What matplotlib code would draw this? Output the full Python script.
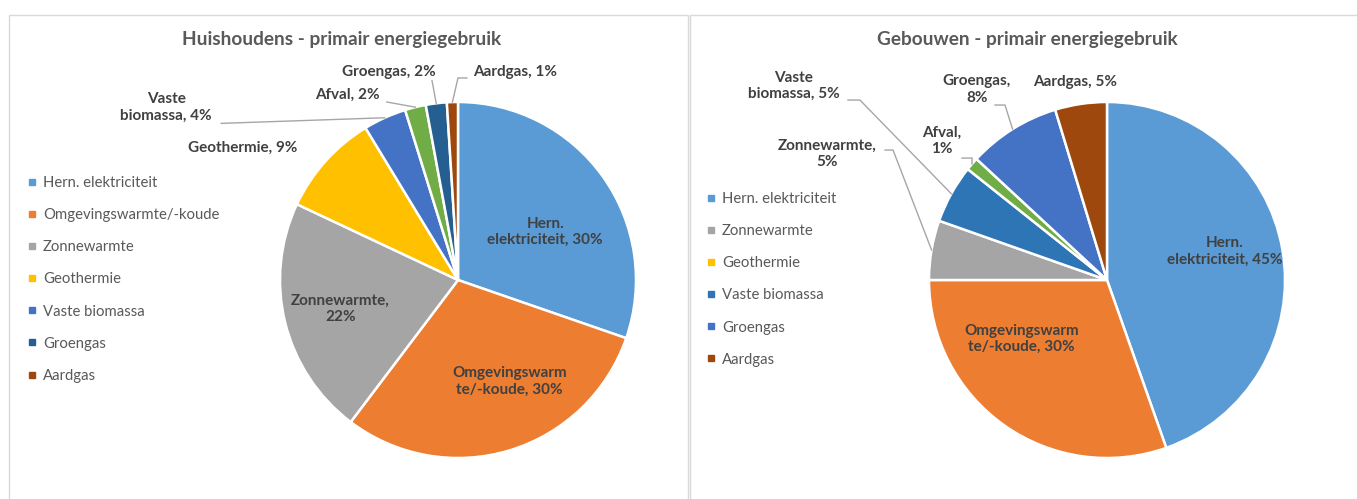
import numpy as np
import matplotlib
matplotlib.use("Agg")
import matplotlib.pyplot as plt
from matplotlib.patches import Rectangle
from matplotlib.lines import Line2D

plt.rcParams['font.family'] = ['Lato', 'DejaVu Sans']

W, H = 1357, 499

# --- data: Huishoudens ---
hh_names = ["Hern. elektriciteit", "Omgevingswarmte/-koude", "Zonnewarmte", "Geothermie",
            "Vaste biomassa", "Afval", "Groengas", "Aardgas"]
hh_values = [30.3, 30.0, 21.7, 9.3, 3.9, 1.9, 1.9, 1.0]
hh_colors = ["#5B9BD5", "#ED7D31", "#A5A5A5", "#FFC000", "#4472C4", "#70AD47", "#255E91", "#9E480E"]
hh_fmt = ["Hern.\nelektriciteit, {}%", "Omgevingswarm\nte/-koude, {}%", "Zonnewarmte,\n{}%",
          "Geothermie, {}%", "Vaste\nbiomassa, {}%", "Afval, {}%", "Groengas, {}%", "Aardgas, {}%"]
hh_legend = ["Hern. elektriciteit", "Omgevingswarmte/-koude", "Zonnewarmte", "Geothermie",
             "Vaste biomassa", "Groengas", "Aardgas"]
hh_legend_colors = ["#5B9BD5", "#ED7D31", "#A5A5A5", "#FFC000", "#4472C4", "#255E91", "#9E480E"]

# --- data: Gebouwen ---
gb_names = ["Hern. elektriciteit", "Omgevingswarmte/-koude", "Zonnewarmte", "Vaste biomassa",
            "Afval", "Groengas", "Aardgas"]
gb_values = [44.6, 30.4, 5.4, 5.3, 1.2, 8.4, 4.7]
gb_colors = ["#5B9BD5", "#ED7D31", "#A5A5A5", "#2E75B6", "#70AD47", "#4472C4", "#9E480E"]
gb_fmt = ["Hern.\nelektriciteit, {}%", "Omgevingswarm\nte/-koude, {}%", "Zonnewarmte,\n{}%",
          "Vaste\nbiomassa, {}%", "Afval,\n{}%", "Groengas,\n{}%", "Aardgas, {}%"]
gb_legend = ["Hern. elektriciteit", "Zonnewarmte", "Geothermie", "Vaste biomassa", "Groengas", "Aardgas"]
gb_legend_colors = ["#5B9BD5", "#A5A5A5", "#FFC000", "#2E75B6", "#4472C4", "#9E480E"]

# label layout (pie units), leader start/elbow or None
hh_layout = [((0.49, 0.27), None), ((0.29, -0.57), None), ((-0.66, -0.16), None),
             ((-1.21, 0.74), None), ((-1.64, 0.97), [(-1.33, 0.88)]),
             ((-0.62, 1.04), [(-0.40, 1.00)]), ((-0.39, 1.17), [(-0.146, 1.12)]),
             ((0.32, 1.17), [(0.05, 1.135), (0.0, 1.135)])]
gb_layout = [((0.66, 0.16), None), ((-0.48, -0.33), None),
             ((-1.57, 0.71), [(-1.247, 0.73), (-1.202, 0.73)]),
             ((-1.76, 1.09), [(-1.455, 1.011), (-1.388, 1.011)]),
             ((-0.93, 0.78), [(-0.815, 0.685), (-0.758, 0.685)]),
             ((-0.73, 1.07), [(-0.629, 0.983), (-0.573, 0.983)]),
             ((-0.18, 1.11), None)]

fig = plt.figure(figsize=(W / 100, H / 100), dpi=100)
fig.patch.set_facecolor("white")

# panel borders
for x0, x1 in [(9, 688), (690, 1365)]:
    fig.patches.append(Rectangle((x0 / W, -0.1), (x1 - x0) / W, 1.1 - 15 / H,
                                 transform=fig.transFigure, fill=False,
                                 edgecolor="#D9D9D9", lw=1))


def draw_pie(cx, cy, r, values, colors, fmt, layout, title, tx, legend, leg_colors, leg_xy):
    ax = fig.add_axes([(cx - r) / W, (H - cy - r) / H, 2 * r / W, 2 * r / H])
    wedges, _ = ax.pie(values, colors=colors, startangle=90, counterclock=False,
                       wedgeprops=dict(edgecolor="white", linewidth=1.8))
    ax.set_xlim(-1, 1)
    ax.set_ylim(-1, 1)
    ax.axis("off")
    for w, v, f, (pos, lead) in zip(wedges, values, fmt, layout):
        ax.text(pos[0], pos[1], f.format(int(round(v))), ha="center", va="center",
                fontsize=11, fontweight="bold", color="#404040", linespacing=1.2)
        if lead:
            mid = np.deg2rad((w.theta1 + w.theta2) / 2)
            pts = lead + [(np.cos(mid), np.sin(mid))]
            xs, ys = zip(*pts)
            ax.plot(xs, ys, color="#A6A6A6", lw=1, clip_on=False)
    fig.text(tx / W, 1 - 40 / H, title, ha="center", va="center", fontsize=13.7,
             fontweight="bold", color="#595959")
    handles = [Line2D([], [], marker="s", linestyle="", markersize=5, color=c)
               for c in leg_colors]
    fig.legend(handles, legend, loc="upper left", bbox_to_anchor=leg_xy,
               frameon=False, fontsize=10.7, labelspacing=1.22, handlelength=0.5,
               handletextpad=0.5, borderpad=0, borderaxespad=0, labelcolor="#595959")


draw_pie(458, 280, 178, hh_values, hh_colors, hh_fmt, hh_layout,
         "Huishoudens - primair energiegebruik", 342, hh_legend, hh_legend_colors,
         (28 / W, 1 - 176 / H))
draw_pie(1107, 280, 178, gb_values, gb_colors, gb_fmt, gb_layout,
         "Gebouwen - primair energiegebruik", 1027, gb_legend, gb_legend_colors,
         (707 / W, 1 - 192 / H))

fig.savefig("out.png", dpi=100)
